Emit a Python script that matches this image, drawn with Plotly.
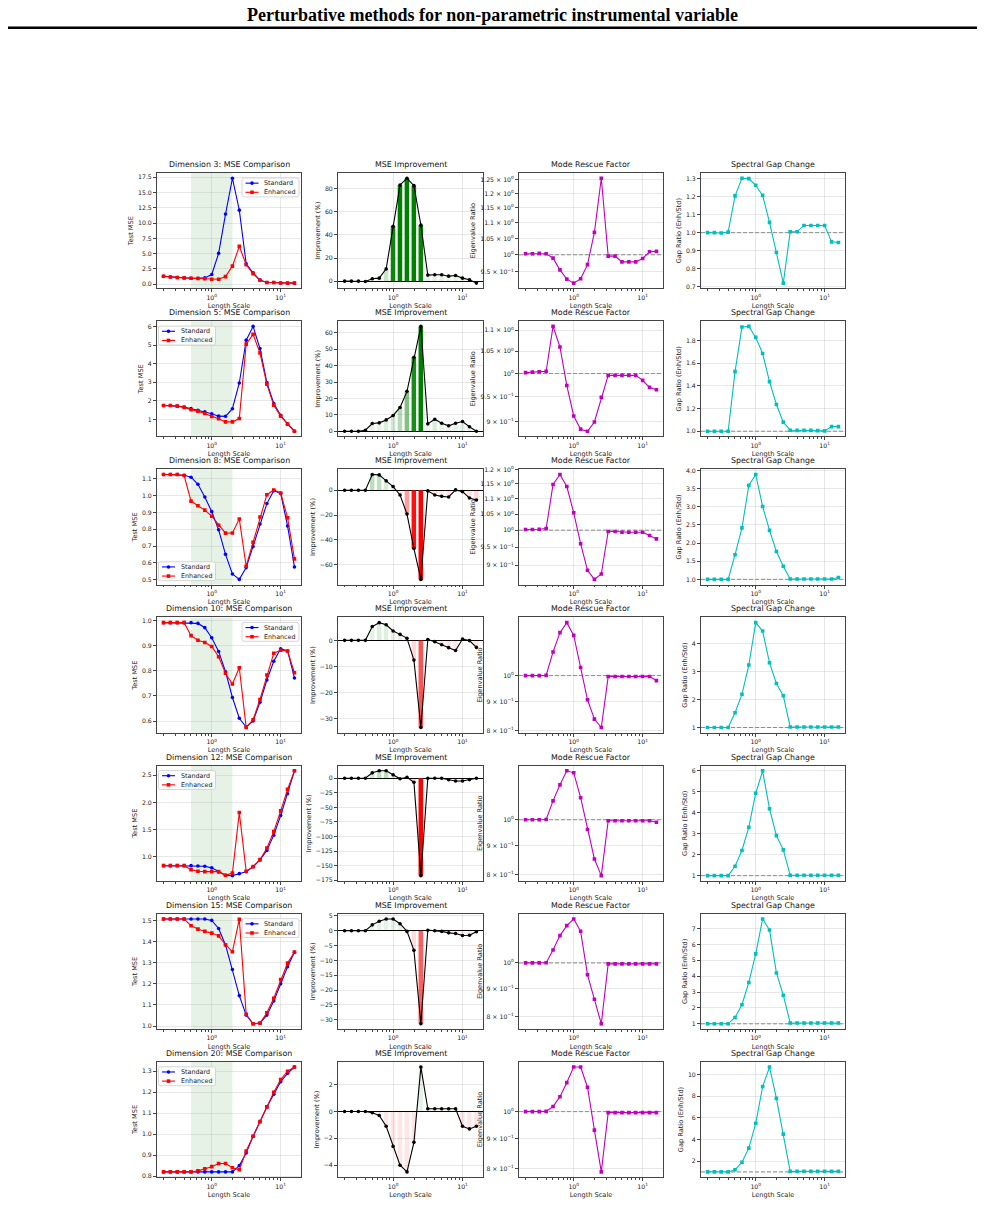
import math
import plotly.graph_objects as go
from plotly.subplots import make_subplots

# ---------------- data ----------------
length_scale = [0.200, 0.251, 0.316, 0.398, 0.501, 0.631, 0.794, 1.000, 1.259, 1.585,
                1.995, 2.512, 3.162, 3.981, 5.012, 6.310, 7.943, 10.00, 12.59, 15.85]
dimensions = [3, 5, 8, 10, 12, 15, 20]

std_mse_3 = [1.30, 1.20, 1.10, 1.05, 1.00, 1.00, 1.05, 1.60, 5.05, 11.45, 17.30, 12.10, 3.35, 1.86, 0.70, 0.30, 0.30, 0.22, 0.20, 0.20]
enh_mse_3 = [1.32, 1.20, 1.12, 1.05, 1.00, 0.95, 0.90, 0.82, 0.82, 1.26, 2.96, 6.20, 3.20, 1.75, 0.66, 0.30, 0.30, 0.22, 0.20, 0.20]
imp_3 = [0, 0, 0, -0.3, 2.0, 2.6, 10.6, 47.5, 83.2, 89.0, 82.6, 48.5, 5.2, 5.5, 5.5, 4.3, 4.9, 2.6, 1.2, -1.7]
rescue_3 = [1.003, 1.003, 1.004, 1.003, 0.990, 0.956, 0.930, 0.919, 0.931, 0.971, 1.069, 1.256, 0.996, 0.996, 0.979, 0.979, 0.979, 0.989, 1.009, 1.010]
gap_3 = [1.0, 1.0, 0.998, 1.003, 1.204, 1.302, 1.30, 1.263, 1.207, 1.057, 0.89, 0.72, 1.005, 1.005, 1.04, 1.04, 1.04, 1.04, 0.949, 0.945]

std_mse_5 = [1.75, 1.75, 1.72, 1.67, 1.59, 1.50, 1.41, 1.31, 1.18, 1.17, 1.58, 2.96, 5.26, 6.00, 4.81, 2.98, 1.86, 1.23, 0.75, 0.37]
enh_mse_5 = [1.75, 1.75, 1.72, 1.65, 1.52, 1.45, 1.32, 1.16, 1.04, 0.87, 0.87, 1.05, 5.05, 5.57, 4.58, 2.89, 1.77, 1.18, 0.75, 0.37]
imp_5 = [0, 0, 0, 0.6, 4.7, 5.1, 6.9, 9.6, 14.5, 24.3, 45.1, 63.9, 4.5, 7.3, 4.9, 3.3, 4.9, 5.9, 2.7, 0.0]
rescue_5 = [1.002, 1.003, 1.004, 1.005, 1.109, 1.060, 0.974, 0.911, 0.885, 0.881, 0.899, 0.949, 0.996, 0.996, 0.996, 0.996, 0.996, 0.985, 0.970, 0.965]
gap_5 = [1.0, 1.0, 1.0, 1.0, 1.525, 1.918, 1.924, 1.827, 1.685, 1.437, 1.236, 1.08, 1.009, 1.008, 1.008, 1.008, 1.005, 1.003, 1.041, 1.041]

std_mse_8 = [1.126, 1.126, 1.126, 1.122, 1.110, 1.068, 0.992, 0.905, 0.797, 0.651, 0.534, 0.502, 0.572, 0.697, 0.831, 0.953, 1.030, 1.014, 0.820, 0.576]
enh_mse_8 = [1.126, 1.126, 1.126, 1.120, 0.968, 0.940, 0.914, 0.878, 0.824, 0.777, 0.778, 0.861, 0.580, 0.723, 0.873, 1.006, 1.034, 1.016, 0.869, 0.624]
imp_8 = [0, 0, 0, 0, 12.7, 12.4, 7.6, 3.0, -3.8, -19.2, -47.0, -71.9, -0.5, -3.8, -4.9, -5.4, 0.3, -1.1, -6.2, -7.8]
rescue_8 = [1.002, 1.002, 1.003, 1.005, 1.148, 1.183, 1.141, 1.054, 0.960, 0.886, 0.862, 0.876, 0.996, 0.996, 0.994, 0.994, 0.994, 0.994, 0.984, 0.974]
gap_8 = [1.0, 1.0, 1.0, 1.0, 1.68, 2.42, 3.59, 3.89, 3.01, 2.35, 1.77, 1.36, 1.01, 1.01, 1.01, 1.01, 1.01, 1.01, 1.01, 1.05]

std_mse_10 = [0.993, 0.993, 0.993, 0.993, 0.993, 0.990, 0.973, 0.933, 0.878, 0.797, 0.694, 0.611, 0.576, 0.600, 0.675, 0.764, 0.839, 0.889, 0.880, 0.772]
enh_mse_10 = [0.993, 0.993, 0.993, 0.993, 0.941, 0.923, 0.914, 0.898, 0.857, 0.791, 0.748, 0.813, 0.574, 0.605, 0.686, 0.784, 0.871, 0.883, 0.880, 0.793]
imp_10 = [0, 0, 0, 0, 5.3, 6.8, 6.0, 3.6, 2.3, 0.8, -7.6, -33.5, 0.3, -0.5, -1.7, -2.8, -3.9, 0.5, -0.1, -2.7]
rescue_10 = [1.0, 1.0, 1.0, 1.001, 1.100, 1.189, 1.238, 1.176, 1.033, 0.907, 0.839, 0.811, 0.996, 0.996, 0.996, 0.996, 0.996, 0.996, 0.996, 0.980]
gap_10 = [1.0, 1.0, 1.0, 1.0, 1.53, 2.19, 3.24, 4.76, 4.46, 3.32, 2.58, 2.14, 1.02, 1.02, 1.02, 1.02, 1.02, 1.02, 1.02, 1.02]

std_mse_12 = [0.84, 0.84, 0.84, 0.84, 0.84, 0.835, 0.83, 0.80, 0.724, 0.663, 0.657, 0.694, 0.73, 0.82, 0.945, 1.12, 1.40, 1.76, 2.16, 2.58]
enh_mse_12 = [0.84, 0.84, 0.84, 0.84, 0.767, 0.737, 0.73, 0.73, 0.73, 0.663, 0.706, 1.814, 0.737, 0.822, 0.95, 1.165, 1.465, 1.845, 2.24, 2.58]
imp_12 = [0, 0, 0, 0, 9.2, 12.7, 12.7, 5.8, -1.0, 1.7, -6.9, -167.0, 0, 0, 0, -2.7, -4.7, -4.7, -2.4, 0]
rescue_12 = [1.0, 1.0, 1.0, 1.001, 1.080, 1.153, 1.221, 1.211, 1.094, 0.961, 0.852, 0.796, 0.996, 0.996, 0.996, 0.996, 0.996, 0.996, 0.996, 0.990]
gap_12 = [1.0, 1.0, 1.0, 1.0, 1.45, 2.2, 3.31, 4.93, 6.0, 4.19, 2.91, 2.23, 1.02, 1.02, 1.02, 1.02, 1.02, 1.02, 1.02, 1.02]

std_mse_15 = [1.507, 1.507, 1.507, 1.507, 1.507, 1.507, 1.507, 1.500, 1.462, 1.384, 1.268, 1.144, 1.052, 1.011, 1.014, 1.052, 1.119, 1.200, 1.281, 1.349]
enh_mse_15 = [1.507, 1.507, 1.507, 1.507, 1.475, 1.459, 1.448, 1.440, 1.427, 1.385, 1.352, 1.505, 1.056, 1.011, 1.014, 1.063, 1.132, 1.220, 1.298, 1.350]
imp_15 = [0, 0, 0, 0, 2.0, 3.2, 4.0, 4.0, 2.4, -0.2, -6.6, -31.4, 0.2, 0, -0.2, -0.7, -0.9, -1.6, -1.5, -0.3]
rescue_15 = [1.0, 1.0, 1.0, 1.001, 1.055, 1.12, 1.167, 1.20, 1.14, 0.952, 0.86, 0.777, 0.996, 0.996, 0.996, 0.996, 0.996, 0.996, 0.996, 0.996]
gap_15 = [1.0, 1.0, 1.0, 1.0, 1.4, 2.2, 3.6, 5.4, 7.6, 6.9, 4.2, 2.8, 1.05, 1.05, 1.05, 1.05, 1.05, 1.05, 1.05, 1.05]

std_mse_20 = [0.82, 0.82, 0.82, 0.82, 0.82, 0.82, 0.82, 0.82, 0.82, 0.82, 0.82, 0.85, 0.91, 0.99, 1.06, 1.13, 1.19, 1.25, 1.29, 1.32]
enh_mse_20 = [0.82, 0.82, 0.82, 0.82, 0.82, 0.825, 0.835, 0.845, 0.86, 0.86, 0.84, 0.83, 0.92, 0.99, 1.06, 1.13, 1.20, 1.26, 1.30, 1.32]
imp_20 = [0, 0, 0, 0, -0.1, -0.3, -1.1, -2.6, -4.0, -4.5, -2.3, 3.3, 0.2, 0.2, 0.2, 0.2, 0.2, -1.1, -1.3, -1.1]
rescue_20 = [1.0, 1.0, 1.0, 1.001, 1.02, 1.06, 1.12, 1.19, 1.19, 1.10, 0.93, 0.79, 0.996, 0.996, 0.996, 0.996, 0.996, 0.996, 0.996, 0.996]
gap_20 = [1.0, 1.0, 1.0, 1.0, 1.2, 1.9, 3.2, 5.5, 8.9, 10.7, 7.8, 4.5, 1.05, 1.05, 1.05, 1.05, 1.05, 1.05, 1.05, 1.05]

std_mse = [std_mse_3, std_mse_5, std_mse_8, std_mse_10, std_mse_12, std_mse_15, std_mse_20]
enh_mse = [enh_mse_3, enh_mse_5, enh_mse_8, enh_mse_10, enh_mse_12, enh_mse_15, enh_mse_20]
improvement = [imp_3, imp_5, imp_8, imp_10, imp_12, imp_15, imp_20]
rescue = [rescue_3, rescue_5, rescue_8, rescue_10, rescue_12, rescue_15, rescue_20]
gap = [gap_3, gap_5, gap_8, gap_10, gap_12, gap_15, gap_20]

shade_region = [0.5, 2.0]
series_names = ["Standard", "Enhanced"]
x_tick_vals = [1, 10]
x_tick_text = ["10<sup>0</sup>", "10<sup>1</sup>"]

# ---------------- layout geometry ----------------
W, H = 985, 1208
COL_PX = [(157, 301), (338, 483), (519, 663), (701, 845)]
ROW_TOP = [170 + 149 * i for i in range(7)]
ROW_H = 116
LEG_POS = ["ur", "ul", "ll", "ur", "ul", "ur", "ul"]
LEG_W, LEG_H = 57, 19

FONT = "DejaVu Sans"
TICK_FS = 6.2
LABEL_FS = 6.6
TITLE_FS = 7.9
SPINE = "#444444"
GRID = "rgba(176,176,176,0.3)"
DASH = "4px,2px"

col1_dtick = [2.5, 1, 0.1, 0.1, 0.5, 0.1, 0.1]
col1_fmt = [".1f", "", ".1f", ".1f", ".1f", ".1f", ".1f"]
col2_dtick = [20, 10, 20, 10, 25, 5, 2]
col4_dtick = [0.1, 0.2, 0.5, 1, 1, 1, 2]
col4_fmt = [".1f", ".1f", ".1f", "", "", "", ""]
col3_ticks = [
    [0.95, 1.0, 1.05, 1.1, 1.15, 1.2, 1.25],
    [0.9, 0.95, 1.0, 1.05, 1.1],
    [0.9, 0.95, 1.0, 1.05, 1.1, 1.15, 1.2],
    [0.8, 0.9, 1.0],
    [0.8, 0.9, 1.0],
    [0.8, 0.9, 1.0],
    [0.8, 0.9, 1.0],
]


def log_label(v):
    if abs(v - 1.0) < 1e-9:
        return "10<sup>0</sup>"
    if v > 1:
        return f"{v:g} × 10<sup>0</sup>"
    return f"{v * 10:g} × 10<sup>−1</sup>"


def lin_range(vals):
    lo, hi = min(vals), max(vals)
    pad = 0.05 * (hi - lo)
    return [lo - pad, hi + pad]


def log_range(vals):
    lv = [math.log10(v) for v in vals]
    lo, hi = min(lv), max(lv)
    pad = 0.05 * (hi - lo)
    return [lo - pad, hi + pad]


def px_x(p):
    return p / W


def px_y(p):
    return 1 - p / H


x_log_range = [math.log10(length_scale[0]) - 0.095, math.log10(length_scale[-1]) + 0.095]
minor_x = [m * 10 ** e for e in (-1, 0, 1) for m in range(2, 10)]
minor_x = [v for v in minor_x if 10 ** x_log_range[0] < v < 10 ** x_log_range[1]]

fig = make_subplots(rows=7, cols=4)


def axkey(kind, n):
    return kind + ("" if n == 1 else str(n))


annotations = []
shapes = []
tfont = dict(family=FONT, size=LABEL_FS, color="#222")

for r in range(7):
    top = ROW_TOP[r]
    y_dom = [px_y(top + ROW_H), px_y(top)]
    for c in range(4):
        n = r * 4 + c + 1
        xa, ya = axkey("xaxis", n), axkey("yaxis", n)
        xref, yref = axkey("x", n), axkey("y", n)
        x_dom = [px_x(COL_PX[c][0]), px_x(COL_PX[c][1])]

        fig.layout[xa].update(
            domain=x_dom, type="log", range=x_log_range,
            tickvals=x_tick_vals, ticktext=x_tick_text,
            ticks="outside", ticklen=3, tickwidth=0.8, tickcolor=SPINE,
            minor=dict(tickvals=minor_x, ticks="outside", ticklen=1.8, tickcolor=SPINE, showgrid=False),
            showline=True, linecolor=SPINE, linewidth=0.9, mirror=True,
            showgrid=True, gridcolor=GRID, gridwidth=0.8, zeroline=False,
            tickfont=dict(family=FONT, size=TICK_FS, color="#222"),
            title=dict(text="Length Scale", font=tfont, standoff=3),
        )
        yopts = dict(
            domain=y_dom, ticks="outside", ticklen=3, tickwidth=0.8, tickcolor=SPINE,
            showline=True, linecolor=SPINE, linewidth=0.9, mirror=True,
            showgrid=True, gridcolor=GRID, gridwidth=0.8, zeroline=False,
            tickfont=dict(family=FONT, size=TICK_FS, color="#222"),
        )

        if c == 0:
            vals = std_mse[r] + enh_mse[r]
            yopts.update(range=lin_range(vals), dtick=col1_dtick[r], tick0=0, tickformat=col1_fmt[r],
                         title=dict(text="Test MSE", font=tfont, standoff=3))
            shapes.append(dict(type="rect", xref=xref, yref=f"{yref} domain",
                               x0=shade_region[0], x1=shade_region[1], y0=0, y1=1,
                               fillcolor="rgba(0,128,0,0.1)", line=dict(width=0), layer="below"))
            fig.add_trace(go.Scatter(x=length_scale, y=std_mse[r], mode="lines+markers", name=series_names[0],
                                     line=dict(color="#0000ff", width=1.1),
                                     marker=dict(symbol="circle", size=3.6, color="#0000ff"),
                                     showlegend=False), row=r + 1, col=c + 1)
            fig.add_trace(go.Scatter(x=length_scale, y=enh_mse[r], mode="lines+markers", name=series_names[1],
                                     line=dict(color="#ff0000", width=1.1),
                                     marker=dict(symbol="square", size=3.6, color="#ff0000"),
                                     showlegend=False), row=r + 1, col=c + 1)
            title = f"Dimension {dimensions[r]}: MSE Comparison"
        elif c == 1:
            vals = improvement[r] + [0]
            yopts.update(range=lin_range(vals), dtick=col2_dtick[r], tick0=0,
                         zeroline=True, zerolinecolor="black", zerolinewidth=1,
                         title=dict(text="Improvement (%)", font=tfont, standoff=3))
            colors = []
            for v in improvement[r]:
                a = min(1.0, max(0.1, abs(v) / 50.0))
                colors.append(f"rgba(0,128,0,{a:.3f})" if v >= 0 else f"rgba(255,0,0,{a:.3f})")
            fig.add_trace(go.Bar(x=length_scale, y=improvement[r], width=[0.15 * v for v in length_scale],
                                 marker=dict(color=colors, line=dict(width=0)), showlegend=False),
                          row=r + 1, col=c + 1)
            fig.add_trace(go.Scatter(x=length_scale, y=improvement[r], mode="lines+markers",
                                     line=dict(color="black", width=1.1),
                                     marker=dict(size=3.6, color="black"), showlegend=False),
                          row=r + 1, col=c + 1)
            title = "MSE Improvement"
        elif c == 2:
            vals = rescue[r] + [1.0]
            yopts.update(type="log", range=log_range(vals), tickvals=col3_ticks[r],
                         ticktext=[log_label(v) for v in col3_ticks[r]],
                         title=dict(text="Eigenvalue Ratio", font=tfont, standoff=3))
            shapes.append(dict(type="line", xref=f"{xref} domain", yref=yref, x0=0, x1=1, y0=1, y1=1,
                               line=dict(color="rgba(0,0,0,0.5)", width=1, dash=DASH), layer="below"))
            fig.add_trace(go.Scatter(x=length_scale, y=rescue[r], mode="lines+markers",
                                     line=dict(color="#bf00bf", width=1.1),
                                     marker=dict(symbol="square", size=3.6, color="#bf00bf"), showlegend=False),
                          row=r + 1, col=c + 1)
            title = "Mode Rescue Factor"
        else:
            vals = gap[r] + [1.0]
            yopts.update(range=lin_range(vals), dtick=col4_dtick[r], tick0=0, tickformat=col4_fmt[r],
                         title=dict(text="Gap Ratio (Enh/Std)", font=tfont, standoff=3))
            shapes.append(dict(type="line", xref=f"{xref} domain", yref=yref, x0=0, x1=1, y0=1, y1=1,
                               line=dict(color="rgba(0,0,0,0.5)", width=1, dash=DASH), layer="below"))
            fig.add_trace(go.Scatter(x=length_scale, y=gap[r], mode="lines+markers",
                                     line=dict(color="#00bfbf", width=1.1),
                                     marker=dict(symbol="square", size=3.6, color="#00bfbf"), showlegend=False),
                          row=r + 1, col=c + 1)
            title = "Spectral Gap Change"

        fig.layout[ya].update(**yopts)
        annotations.append(dict(text=title, x=(x_dom[0] + x_dom[1]) / 2, y=px_y(top - 2),
                                xref="paper", yref="paper", xanchor="center", yanchor="bottom",
                                showarrow=False, font=dict(family=FONT, size=TITLE_FS, color="#111")))

    # matplotlib-style compact legend for the MSE panel of this row
    x0, x1 = COL_PX[0]
    pos = LEG_POS[r]
    bx = x1 - 2 - LEG_W if pos == "ur" else x0 + 1.5
    by = top + ROW_H - 4 - LEG_H if pos == "ll" else top + 5
    rad = 2
    path = (f"M {px_x(bx + rad)},{px_y(by)} L {px_x(bx + LEG_W - rad)},{px_y(by)} "
            f"Q {px_x(bx + LEG_W)},{px_y(by)} {px_x(bx + LEG_W)},{px_y(by + rad)} "
            f"L {px_x(bx + LEG_W)},{px_y(by + LEG_H - rad)} "
            f"Q {px_x(bx + LEG_W)},{px_y(by + LEG_H)} {px_x(bx + LEG_W - rad)},{px_y(by + LEG_H)} "
            f"L {px_x(bx + rad)},{px_y(by + LEG_H)} "
            f"Q {px_x(bx)},{px_y(by + LEG_H)} {px_x(bx)},{px_y(by + LEG_H - rad)} "
            f"L {px_x(bx)},{px_y(by + rad)} Q {px_x(bx)},{px_y(by)} {px_x(bx + rad)},{px_y(by)} Z")
    shapes.append(dict(type="path", xref="paper", yref="paper", path=path,
                       fillcolor="rgba(255,255,255,0.85)", line=dict(color="#cccccc", width=0.8), layer="above"))
    for k, (col, sym) in enumerate([("#0000ff", "circle"), ("#ff0000", "rect")]):
        yy = by + 5.2 + 9.2 * k
        shapes.append(dict(type="line", xref="paper", yref="paper", x0=px_x(bx + 3.5), x1=px_x(bx + 16.5),
                           y0=px_y(yy), y1=px_y(yy), line=dict(color=col, width=1.1), layer="above"))
        mk = 1.8
        shapes.append(dict(type=sym, xref="paper", yref="paper", x0=px_x(bx + 10 - mk), x1=px_x(bx + 10 + mk),
                           y0=px_y(yy - mk), y1=px_y(yy + mk), fillcolor=col, line=dict(width=0), layer="above"))
        annotations.append(dict(text=series_names[k], x=px_x(bx + 20), y=px_y(yy), xref="paper", yref="paper",
                                xanchor="left", yanchor="middle", showarrow=False,
                                font=dict(family=FONT, size=6.4, color="#222")))

# figure title and rule
annotations.append(dict(text="<b>Perturbative methods for non-parametric instrumental variable</b>",
                        x=0.5, y=px_y(11), xref="paper", yref="paper", xanchor="center", yanchor="middle",
                        showarrow=False, font=dict(family="Liberation Serif", size=18, color="black")))
shapes.append(dict(type="line", xref="paper", yref="paper", x0=px_x(8), x1=px_x(977),
                   y0=px_y(24), y1=px_y(24), line=dict(color="black", width=2.5)))

fig.update_layout(
    width=W, height=H, margin=dict(l=0, r=0, t=0, b=0),
    paper_bgcolor="white", plot_bgcolor="white",
    font=dict(family=FONT, size=TICK_FS, color="#222"),
    annotations=annotations,
    shapes=shapes,
    barmode="overlay",
    showlegend=False,
)

fig.write_html("out.html")
